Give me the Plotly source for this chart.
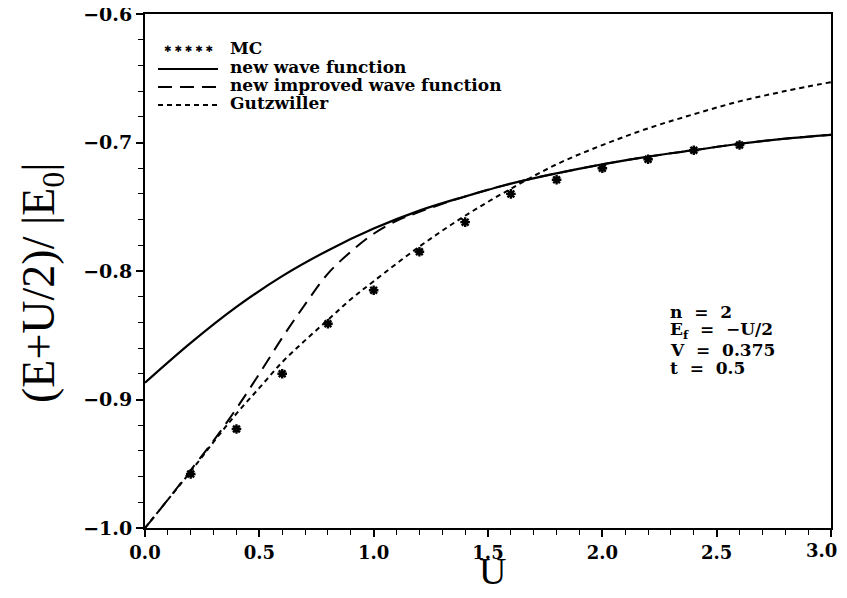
import plotly.graph_objects as go

# MC data
U_mc = [0.2, 0.4, 0.6, 0.8, 1.0, 1.2, 1.4, 1.6, 1.8, 2.0, 2.2, 2.4, 2.6]
E_mc = [-0.958, -0.923, -0.880, -0.841, -0.815, -0.785, -0.762, -0.740,
        -0.729, -0.720, -0.713, -0.706, -0.702]

# new wave function
U_new = [0.0, 0.2, 0.4, 0.6, 0.8, 1.0, 1.2, 1.4, 1.6, 1.8, 2.0, 2.2, 2.4, 2.6, 2.8, 3.0]
E_new = [-0.887, -0.856, -0.828, -0.804, -0.784, -0.767, -0.753, -0.742, -0.732,
         -0.724, -0.717, -0.711, -0.706, -0.701, -0.697, -0.694]

# new improved wave function
U_imp = [0.0, 0.1, 0.2, 0.3, 0.4, 0.5, 0.6, 0.7, 0.8, 0.9, 1.0, 1.1, 1.2, 1.4, 1.6,
         1.8, 2.0, 2.2, 2.4, 2.6, 2.8, 3.0]
E_imp = [-1.0, -0.978, -0.955, -0.932, -0.907, -0.880, -0.852, -0.826, -0.802, -0.785,
         -0.771, -0.761, -0.754, -0.742, -0.732, -0.724, -0.717, -0.711, -0.706,
         -0.701, -0.697, -0.694]

# Gutzwiller
U_gw = [0.0, 0.1, 0.2, 0.3, 0.4, 0.5, 0.6, 0.7, 0.8, 0.9, 1.0, 1.2, 1.4, 1.6, 1.8,
        2.0, 2.2, 2.4, 2.6, 2.8, 3.0]
E_gw = [-1.0, -0.978, -0.956, -0.933, -0.911, -0.891, -0.871, -0.854, -0.838, -0.822,
        -0.808, -0.781, -0.757, -0.736, -0.717, -0.702, -0.689, -0.678, -0.668,
        -0.660, -0.653]

x_tickvals = [0.0, 0.5, 1.0, 1.5, 2.0, 2.5, 3.0]
x_ticktext = ["0.0", "0.5", "1.0", "1.5", "2.0", "2.5", ""]
last_x_label = "3.0"  # drawn separately so it is not clipped at the page edge

legend_names = ["MC", "new wave function", "new improved wave function", "Gutzwiller"]
param_lines = ["n  =  2", "E<sub>f</sub>  =  −U/2", "V  =  0.375", "t  =  0.5"]

BOLD = dict(family="DejaVu Serif", weight="bold", color="black")

# page offset from the default body margin of the html page
OFF = 8
W, H = 847 - OFF, 598 - 2 * OFF
# plot area in page pixels: left 145, top 14, right 831, bottom 528
L, T = 145 - OFF, 14 - OFF
R = W - (831 - OFF)
B = H - (528 - OFF)
PW, PH = W - L - R, H - T - B


def px(x):
    """page pixel x -> paper coordinate"""
    return (x - OFF - L) / PW


def py(y):
    """page pixel y -> paper coordinate"""
    return (H - B - (y - OFF)) / PH


DASH_IMP = "14px,8px"
DASH_GW = "5px,4px"

fig = go.Figure()
fig.add_trace(go.Scatter(
    x=U_mc, y=E_mc, mode="markers", name=legend_names[0],
    marker=dict(symbol="asterisk-open", size=8, color="black",
                line=dict(color="black", width=2.4))))
fig.add_trace(go.Scatter(
    x=U_new, y=E_new, mode="lines", name=legend_names[1], line_shape="spline",
    line=dict(color="black", width=2.2)))
fig.add_trace(go.Scatter(
    x=U_imp, y=E_imp, mode="lines", name=legend_names[2], line_shape="spline",
    line=dict(color="black", width=2, dash=DASH_IMP)))
fig.add_trace(go.Scatter(
    x=U_gw, y=E_gw, mode="lines", name=legend_names[3], line_shape="spline",
    line=dict(color="black", width=2, dash=DASH_GW)))

# custom legend (top-left, inside the plot)
row_y = [48, 67, 85, 103]
sym_x0, sym_x1, txt_x = 158, 218, 228
fig.add_annotation(x=px((sym_x0 + sym_x1) / 2), y=py(row_y[0] + 1), xref="paper", yref="paper",
                   text="✱ ✱ ✱ ✱ ✱", showarrow=False, xanchor="center", yanchor="middle",
                   font=dict(family="DejaVu Sans", size=9, color="black"))
for yy, dash in zip(row_y[1:], ["solid", DASH_IMP, DASH_GW]):
    fig.add_shape(type="line", xref="paper", yref="paper",
                  x0=px(sym_x0), x1=px(sym_x1), y0=py(yy + 2), y1=py(yy + 2),
                  line=dict(color="black", width=2, dash=dash))
for yy, name in zip(row_y, legend_names):
    fig.add_annotation(x=px(txt_x), y=py(yy), xref="paper", yref="paper",
                       text=name, showarrow=False, xanchor="left", yanchor="middle",
                       font=dict(size=17, **BOLD))

# parameter block
for yy, t in zip([312, 330, 350, 368], param_lines):
    fig.add_annotation(x=px(668), y=py(yy), xref="paper", yref="paper",
                       text=t, showarrow=False, xanchor="left", yanchor="middle",
                       font=dict(size=17, **BOLD))

# last x tick label, right-aligned inside the page
fig.add_annotation(x=px(839), y=py(550), xref="paper", yref="paper",
                   text=last_x_label, showarrow=False, xanchor="right", yanchor="middle",
                   font=dict(size=18, **BOLD))

# axis titles
fig.add_annotation(x=px(492), y=py(571), xref="paper", yref="paper",
                   text="U", showarrow=False, xanchor="center", yanchor="middle",
                   font=dict(family="Liberation Serif", size=38, color="black"))
fig.add_annotation(x=px(42), y=py(283), xref="paper", yref="paper",
                   text="(E+U/2)/ |E<sub>0</sub>|", showarrow=False, textangle=-90,
                   xanchor="center", yanchor="middle",
                   font=dict(family="Liberation Serif", size=46, color="black"))

fig.update_layout(
    width=W, height=H,
    paper_bgcolor="white", plot_bgcolor="white",
    margin=dict(l=L, r=R, t=T, b=B),
    showlegend=False,
)

fig.update_xaxes(
    range=[0, 3.0], tickmode="array", tickvals=x_tickvals, ticktext=x_ticktext,
    automargin=False, showgrid=False, zeroline=False,
    showline=True, linecolor="black", linewidth=2, mirror=True,
    ticks="outside", ticklen=7, tickwidth=1.5, tickcolor="black",
    minor=dict(dtick=0.1, tick0=0, ticks="outside", ticklen=5, tickwidth=1.2, tickcolor="black"),
    tickfont=dict(size=18, **BOLD),
)
fig.update_yaxes(
    range=[-1.0, -0.6], dtick=0.1, tick0=-1.0, tickformat=".1f", automargin=False,
    showgrid=False, zeroline=False, ticklabeloverflow="allow",
    showline=True, linecolor="black", linewidth=2, mirror=True,
    ticks="outside", ticklen=7, tickwidth=1.5, tickcolor="black",
    minor=dict(dtick=0.02, ticks="outside", ticklen=5, tickwidth=1.2, tickcolor="black"),
    tickfont=dict(size=19, **BOLD),
)

fig.write_html("out.html")
